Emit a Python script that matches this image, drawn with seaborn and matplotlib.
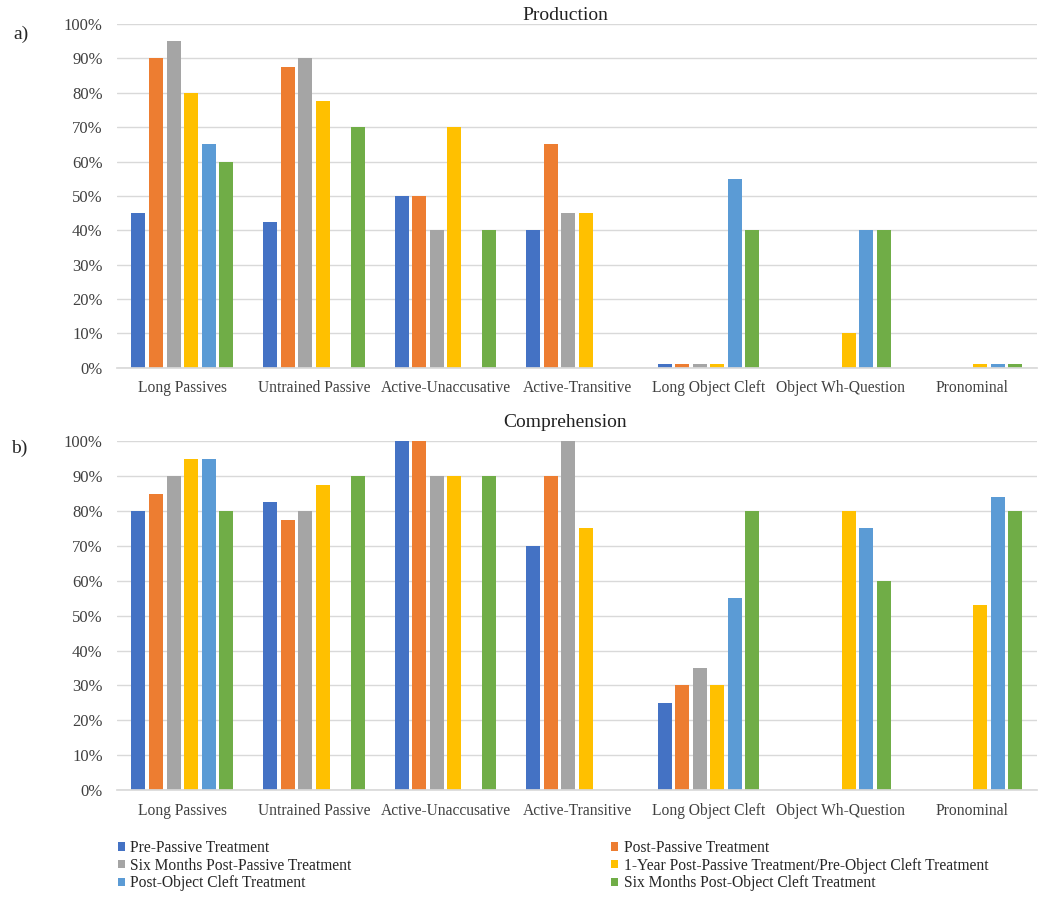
import matplotlib.pyplot as plt
import matplotlib.ticker as mticker
import numpy as np
import pandas as pd
import seaborn as sns

# categories and series, values in percent (None = no bar)
categories = ['Long Passives', 'Untrained Passive', 'Active-Unaccusative', 'Active-Transitive',
              'Long Object Cleft', 'Object Wh-Question', 'Pronominal']
series = ['Pre-Passive Treatment', 'Post-Passive Treatment', 'Six Months Post-Passive Treatment',
          '1-Year Post-Passive Treatment/Pre-Object Cleft Treatment', 'Post-Object Cleft Treatment',
          'Six Months Post-Object Cleft Treatment']

production = {
    'Pre-Passive Treatment':              [45, 42.5, 50, 40, 1, None, None],
    'Post-Passive Treatment':             [90, 87.5, 50, 65, 1, None, None],
    'Six Months Post-Passive Treatment':  [95, 90, 40, 45, 1, None, None],
    '1-Year Post-Passive Treatment/Pre-Object Cleft Treatment': [80, 77.5, 70, 45, 1, 10, 1],
    'Post-Object Cleft Treatment':        [65, None, None, None, 55, 40, 1],
    'Six Months Post-Object Cleft Treatment': [60, 70, 40, None, 40, 40, 1],
}
comprehension = {
    'Pre-Passive Treatment':              [80, 82.5, 100, 70, 25, None, None],
    'Post-Passive Treatment':             [85, 77.5, 100, 90, 30, None, None],
    'Six Months Post-Passive Treatment':  [90, 80, 90, 100, 35, None, None],
    '1-Year Post-Passive Treatment/Pre-Object Cleft Treatment': [95, 87.5, 90, 75, 30, 80, 53],
    'Post-Object Cleft Treatment':        [95, None, None, None, 55, 75, 84],
    'Six Months Post-Object Cleft Treatment': [80, 90, 90, None, 80, 60, 80],
}

colors = ['#4472C4', '#ED7D31', '#A5A5A5', '#FFC000', '#5B9BD5', '#70AD47']


def to_long(d):
    rows = []
    for s in series:
        for c, v in zip(categories, d[s]):
            if v is not None:
                rows.append({'category': c, 'series': s, 'value': v})
    return pd.DataFrame(rows)


sns.set_theme(style='white')
plt.rcParams['font.family'] = ['Liberation Serif', 'DejaVu Serif']

fig = plt.figure(figsize=(10.5, 9.06), dpi=100)
ax1 = fig.add_axes([0.111, 0.594, 0.877, 0.3795])
ax2 = fig.add_axes([0.111, 0.128, 0.877, 0.385])

for ax, data, title, tpad in [(ax1, production, 'Production', 3),
                               (ax2, comprehension, 'Comprehension', 10)]:
    df = to_long(data)
    sns.barplot(data=df, x='category', y='value', hue='series', order=categories,
                hue_order=series, palette=colors, width=0.8, gap=0.2, ax=ax,
                errorbar=None, legend=True, saturation=1)
    ax.set_ylim(0, 100)
    ax.set_xlim(-0.5, len(categories) - 0.5)
    ax.set_yticks(np.arange(0, 101, 10))
    ax.yaxis.set_major_formatter(mticker.FuncFormatter(lambda v, p: '%d%%' % v))
    ax.grid(axis='y', color='#D9D9D9', linewidth=1)
    ax.set_axisbelow(True)
    for sp in ['top', 'right', 'left']:
        ax.spines[sp].set_visible(False)
    ax.spines['bottom'].set_color('#D9D9D9')
    ax.tick_params(axis='both', length=0, colors='#404040')
    ax.tick_params(axis='x', pad=9, labelsize=11.2)
    ax.tick_params(axis='y', pad=10, labelsize=12)
    ax.set_xlabel('')
    ax.set_ylabel('')
    ax.set_title(title, fontsize=14, pad=tpad, color='#222222', x=0.487)
    for p in ax.patches:
        p.set_edgecolor('none')

handles, labels = ax2.get_legend_handles_labels()
ax1.get_legend().remove()
ax2.get_legend().remove()
order = [0, 2, 4, 1, 3, 5]
fig.legend([handles[i] for i in order], [labels[i] for i in order], ncol=2,
           loc='upper left', bbox_to_anchor=(0.106, 0.0795), frameon=False,
           fontsize=11.2, handlelength=0.45, handleheight=0.45, handletextpad=0.35,
           columnspacing=16.7, labelspacing=0.1, borderaxespad=0)

fig.text(0.013, 0.9625, 'a)', fontsize=14, va='center')
fig.text(0.011, 0.5055, 'b)', fontsize=14, va='center')

fig.savefig('out.png', dpi=100)
